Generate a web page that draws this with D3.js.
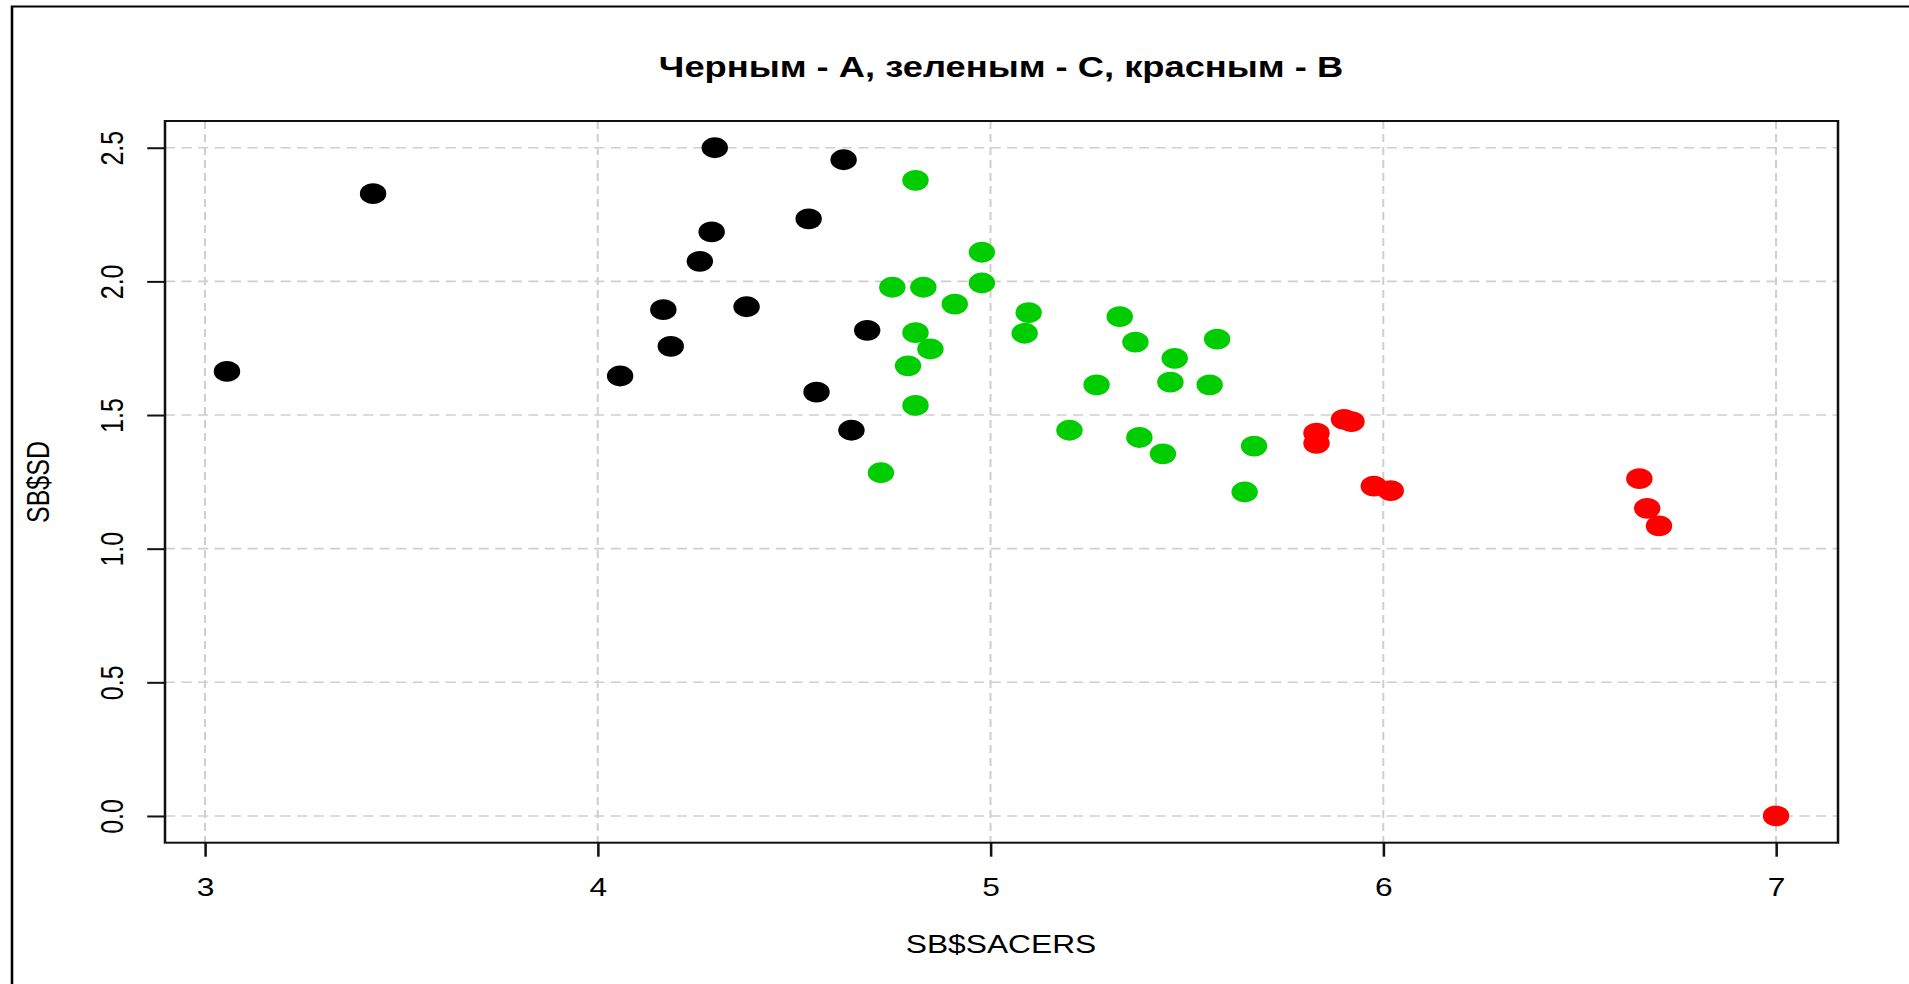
<!DOCTYPE html>
<html>
<head>
<meta charset="utf-8">
<script src="https://cdn.jsdelivr.net/npm/d3@7"></script>
<style>
  html, body { margin: 0; padding: 0; background: #fff; }
  svg { display: block; }
  text { font-family: "Liberation Sans", Arial, sans-serif; fill: #000; }
</style>
</head>
<body>
<script>
// ---- data ----
const titleText = "Черным - А, зеленым - С, красным - В";
const xLabel = "SB$SACERS";
const yLabel = "SB$SD";

const groupA_x = [3.056, 3.428, 4.298, 4.626, 4.537, 4.290, 4.260, 4.167, 4.379, 4.686, 4.186, 4.057, 4.557, 4.646];
const groupA_y = [1.663, 2.328, 2.500, 2.455, 2.234, 2.185, 2.075, 1.894, 1.905, 1.817, 1.757, 1.646, 1.586, 1.443];

const groupC_x = [4.809, 4.978, 4.978, 4.750, 4.829, 4.909, 4.809, 4.847, 4.790, 4.809, 4.721, 5.097, 5.087, 5.329, 5.369, 5.469, 5.577, 5.270, 5.458, 5.558, 5.201, 5.379, 5.439, 5.671, 5.647];
const groupC_y = [2.378, 2.109, 1.994, 1.978, 1.978, 1.915, 1.808, 1.747, 1.684, 1.536, 1.284, 1.883, 1.806, 1.868, 1.773, 1.712, 1.784, 1.613, 1.623, 1.613, 1.443, 1.416, 1.355, 1.384, 1.212];

const groupB_x = [5.830, 5.830, 5.900, 5.919, 5.976, 6.019, 6.652, 6.672, 6.702, 7.000];
const groupB_y = [1.432, 1.394, 1.484, 1.475, 1.234, 1.217, 1.262, 1.151, 1.085, 0.000];

const xTicks = [3, 4, 5, 6, 7];
const yTicks = [0.0, 0.5, 1.0, 1.5, 2.0, 2.5];

const groups = [
  {xs: groupA_x, ys: groupA_y, color: "#000000"},
  {xs: groupC_x, ys: groupC_y, color: "#00CD00"},
  {xs: groupB_x, ys: groupB_y, color: "#FF0000"}
];

// ---- layout ----
const W = 1909, H = 984;
const S = 1.27;             // horizontal stretch of the original picture
const boxL = 165 / S, boxR = 1838 / S, boxT = 121, boxB = 842.7;

const allX = groups.flatMap(g => g.xs), allY = groups.flatMap(g => g.ys);
const [x0, x1] = d3.extent(allX), [y0, y1] = d3.extent(allY);
const px = (x1 - x0) * 0.04, py = (y1 - y0) * 0.04;

const x = d3.scaleLinear().domain([x0 - px, x1 + px]).range([boxL, boxR]);
const y = d3.scaleLinear().domain([y0 - py, y1 + py]).range([boxB, boxT]);

const svg = d3.select("body").append("svg").attr("width", W).attr("height", H);
svg.append("rect").attr("width", W).attr("height", H).attr("fill", "#fff");
const g = svg.append("g").attr("transform", `scale(${S},1)`);

// outer frame
g.append("rect").attr("x", 12 / S).attr("y", 6.5).attr("width", 2000).attr("height", 1100)
  .attr("fill", "none").attr("stroke", "#000").attr("stroke-width", 2);

// grid
const grid = g.append("g").attr("stroke", "#cfcfcf").attr("stroke-width", 1.6).attr("stroke-dasharray", "8,5");
grid.selectAll("line.v").data(xTicks).join("line").attr("class", "v")
  .attr("x1", d => x(d)).attr("x2", d => x(d)).attr("y1", boxT).attr("y2", boxB);
grid.selectAll("line.h").data(yTicks).join("line").attr("class", "h")
  .attr("x1", boxL).attr("x2", boxR).attr("y1", d => y(d)).attr("y2", d => y(d));

// points
groups.forEach(gr => {
  g.append("g").selectAll("circle").data(gr.xs.map((v, i) => [v, gr.ys[i]])).join("circle")
    .attr("cx", d => x(d[0])).attr("cy", d => y(d[1])).attr("r", 10.4)
    .attr("fill", gr.color);
});

// box
g.append("rect").attr("x", boxL).attr("y", boxT).attr("width", boxR - boxL).attr("height", boxB - boxT)
  .attr("fill", "none").attr("stroke", "#111").attr("stroke-width", 2);

// x axis
const xa = g.append("g").attr("transform", `translate(0,${boxB})`)
  .call(d3.axisBottom(x).tickValues(xTicks).tickSize(14).tickFormat(d3.format("d")));
xa.select(".domain").remove();
xa.selectAll(".tick line").attr("stroke", "#111").attr("stroke-width", 2);
xa.selectAll(".tick text").attr("y", 53.5).attr("dy", 0)
  .style("font-size", "25px").style("font-family", '"Liberation Sans", Arial, sans-serif').attr("fill", "#000");

// y axis
const ya = g.append("g").attr("transform", `translate(${boxL},0)`)
  .call(d3.axisLeft(y).tickValues(yTicks).tickSize(14).tickFormat(d3.format(".1f")));
ya.select(".domain").remove();
ya.selectAll(".tick line").attr("stroke", "#111").attr("stroke-width", 2);
ya.selectAll(".tick text").attr("x", null).attr("dy", 0).attr("text-anchor", "middle")
  .attr("transform", "translate(-33,0) rotate(-90)")
  .style("font-size", "25px").style("font-family", '"Liberation Sans", Arial, sans-serif').attr("fill", "#000");

// titles
g.append("text").attr("x", 1001 / S).attr("y", 77).attr("text-anchor", "middle")
  .style("font-size", "28.6px").style("font-weight", "bold").text(titleText);
g.append("text").attr("x", 1001 / S).attr("y", 953).attr("text-anchor", "middle")
  .style("font-size", "25px").text(xLabel);
g.append("text").attr("transform", `translate(${49 / S},${482}) rotate(-90)`).attr("text-anchor", "middle")
  .style("font-size", "25px").text(yLabel);
</script>
</body>
</html>
